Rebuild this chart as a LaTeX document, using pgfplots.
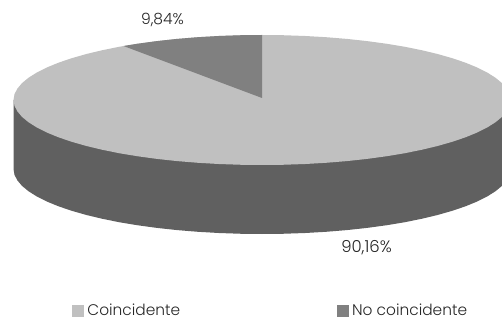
\documentclass[border=0pt]{standalone}
\usepackage{pgfplots}
\pgfplotsset{compat=1.18}
\usepackage{fontspec}
\setmainfont[UprightFont=* Light]{Poppins}
\definecolor{pieLight}{HTML}{C0C0C0}
\definecolor{pieMid}{HTML}{808080}
\definecolor{pieDark}{HTML}{606060}
\definecolor{txt}{HTML}{262626}
\begin{document}
\begin{tikzpicture}
\begin{axis}[
  at={(0,0)}, anchor=south west,
  width=502pt, height=320pt, scale only axis,
  xmin=0, xmax=502, ymin=0, ymax=320, y dir=reverse,
  hide axis, clip=true,
  legend columns=2,
  legend style={at={(0.1434,0.0297)}, anchor=west, draw=none, fill=none,
    inner sep=0pt, outer sep=0pt, font=\fontsize{15.4}{18}\selectfont\color{txt},
    /tikz/every even column/.style={column sep=156.5pt},
    /tikz/every odd column/.style={column sep=4pt},
    nodes={inner sep=0pt}},
  legend cell align=left,
]
% side of the disc
\addplot[draw=none, fill=pieDark, forget plot] coordinates {
(13.5,100)(13.5,169)(14.45,174.67)(17.28,180.29)(21.97,185.82)(28.49,191.23)(36.79,196.47)(46.79,201.5)(58.44,206.28)(71.64,210.78)(86.29,214.96)(102.27,218.79)(119.46,222.25)(137.75,225.29)(156.98,227.91)(177.01,230.08)(197.69,231.78)(218.85,233.01)(240.34,233.75)(262,234)
(283.66,233.75)(305.15,233.01)(326.31,231.78)(346.99,230.08)(367.02,227.91)(386.25,225.29)(404.54,222.25)(421.73,218.79)(437.71,214.96)(452.36,210.78)(465.56,206.28)(477.21,201.5)(487.21,196.47)(495.51,191.23)(502.03,185.82)(506.72,180.29)(509.55,174.67)(510.5,169)(510.5,100)
} -- cycle;
% top face: Coincidente 90,16
\addplot[draw=none, fill=pieLight, forget plot] coordinates {
(13.5,100)(14.45,105.67)(17.28,111.29)(21.97,116.82)(28.49,122.23)(36.79,127.47)(46.79,132.5)(58.44,137.28)(71.64,141.78)(86.29,145.96)(102.27,149.79)(119.46,153.25)(137.75,156.29)(156.98,158.91)(177.01,161.08)(197.69,162.78)(218.85,164.01)(240.34,164.75)(262,165)
(283.66,164.75)(305.15,164.01)(326.31,162.78)(346.99,161.08)(367.02,158.91)(386.25,156.29)(404.54,153.25)(421.73,149.79)(437.71,145.96)(452.36,141.78)(465.56,137.28)(477.21,132.5)(487.21,127.47)(495.51,122.23)(502.03,116.82)(506.72,111.29)(509.55,105.67)(510.5,100)
(509.55,94.33)(506.72,88.71)(502.03,83.18)(495.51,77.77)(487.21,72.53)(477.21,67.5)(465.56,62.72)(452.36,58.22)(437.71,54.04)(421.73,50.21)(404.54,46.75)(386.25,43.71)(367.02,41.09)(346.99,38.92)(326.31,37.22)(305.15,35.99)(283.66,35.25)(262,35)
(240.34,35.25)(218.85,35.99)(197.69,37.22)(177.01,38.92)(156.98,41.09)(137.75,43.71)(119.46,46.75)(102.27,50.21)(86.29,54.04)(71.64,58.22)(58.44,62.72)(46.79,67.5)(36.79,72.53)(28.49,77.77)(21.97,83.18)(17.28,88.71)(14.45,94.33)
} -- cycle;
% top face: No coincidente 9,84
\addplot[draw=none, fill=pieMid, forget plot] coordinates {
(262,98)(262,35)(240.34,35.25)(218.85,35.99)(197.69,37.22)(177.01,38.92)(156.98,41.09)(137.75,43.71)(123.5,46)
} -- cycle;
\addlegendimage{legend image code/.code={\fill[pieLight] (0pt,-5.5pt) rectangle (11pt,5.5pt);}}
\addlegendentry{Coincidente}
\addlegendimage{legend image code/.code={\fill[pieMid] (0pt,-5.5pt) rectangle (11pt,5.5pt);}}
\addlegendentry{No coincidente}
\node[font=\fontsize{15.5}{18}\selectfont, text=txt, inner sep=0pt] at (axis cs:162.5,20) {9,84\%};
\node[font=\fontsize{16.5}{18}\selectfont, text=txt, inner sep=0pt] at (axis cs:366.5,247.5) {90,16\%};
\end{axis}
\pgfresetboundingbox
\useasboundingbox (0,0) rectangle (502pt,320pt);
\end{tikzpicture}
\end{document}
